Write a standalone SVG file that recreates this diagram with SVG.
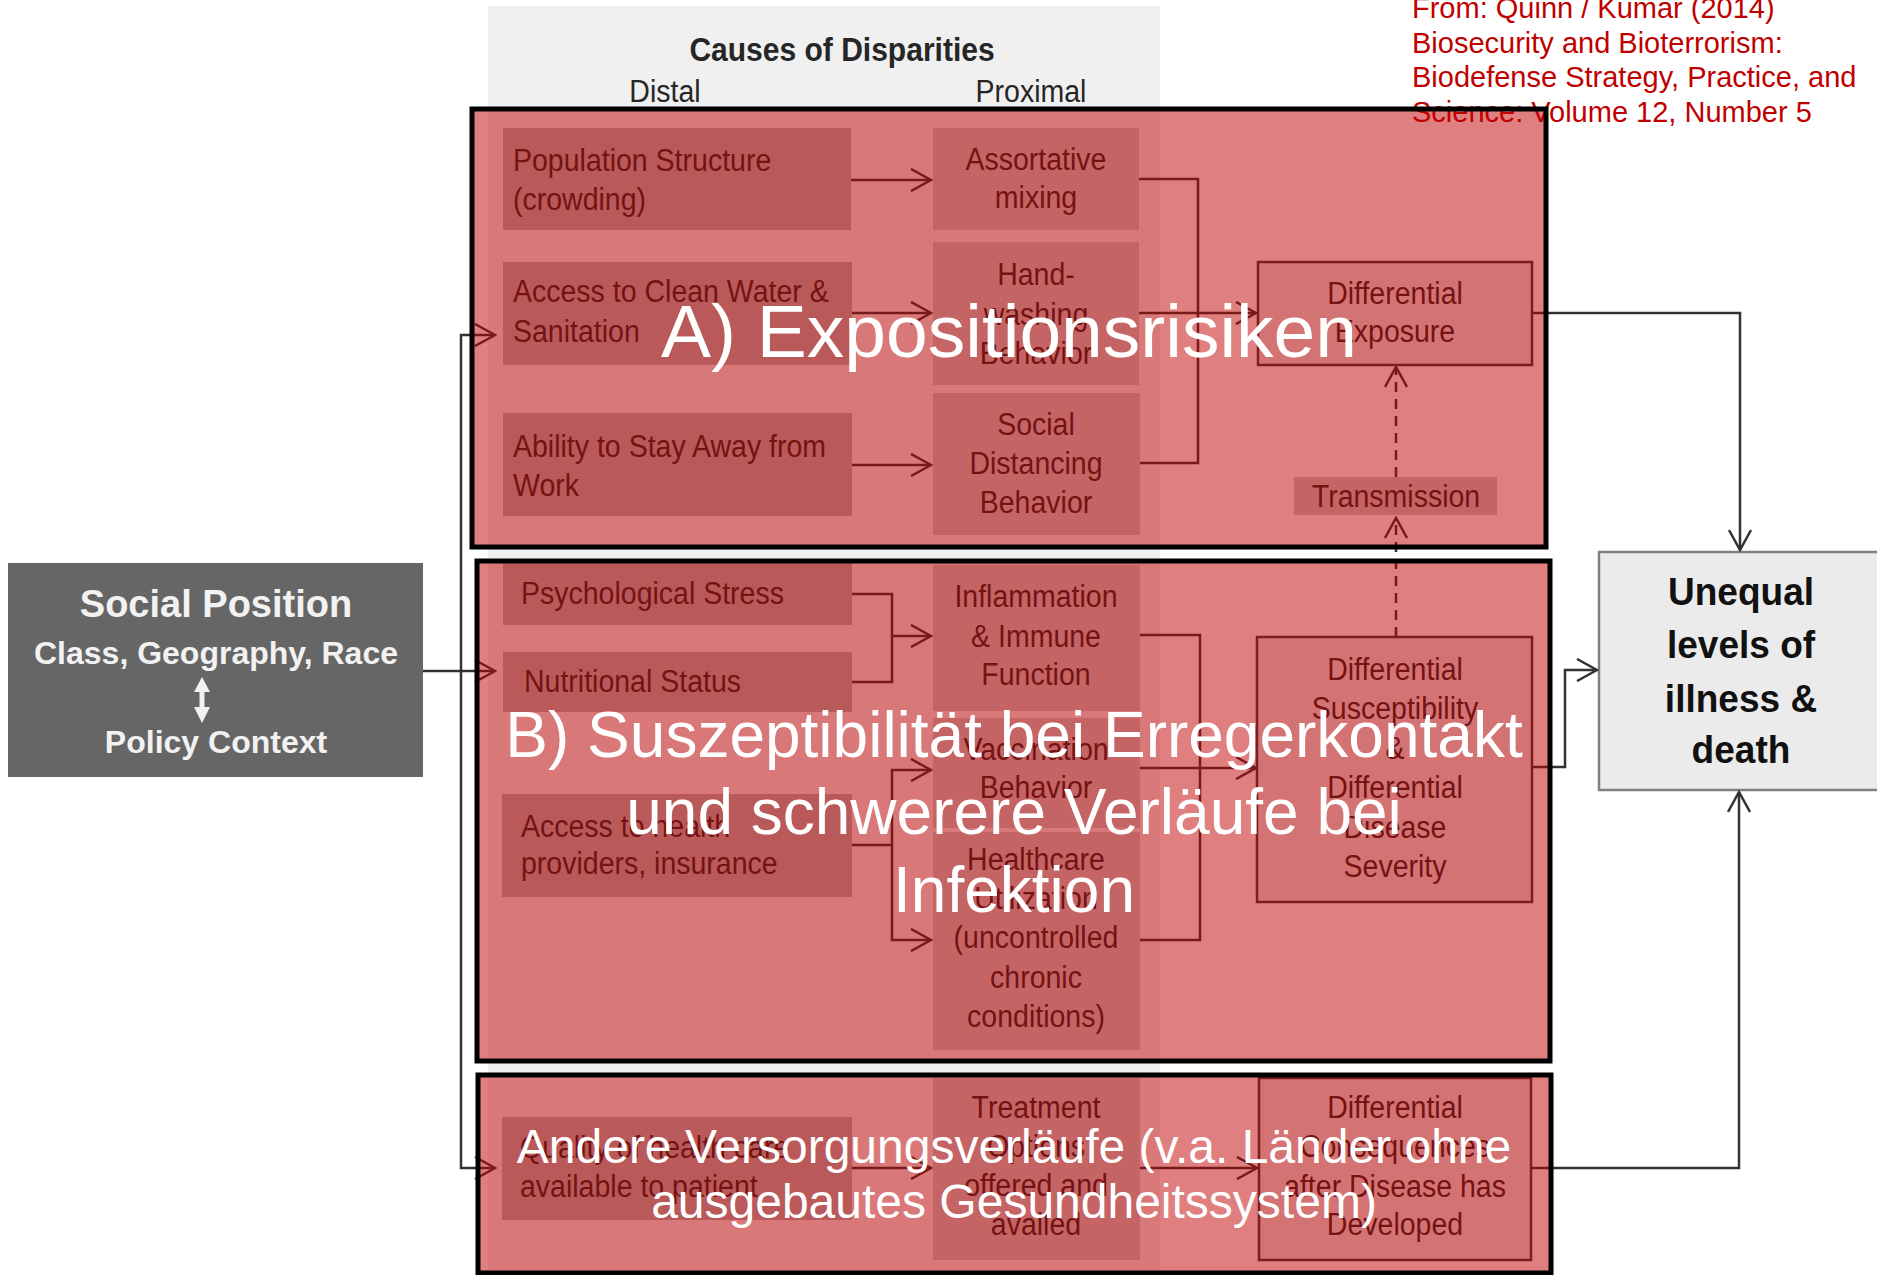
<svg xmlns="http://www.w3.org/2000/svg" width="1877" height="1275" viewBox="0 0 1877 1275">
<style>
.t{font-family:"Liberation Sans",Arial,sans-serif;font-size:31px;fill:#262626;transform-box:fill-box;transform-origin:0 50%;transform:scaleX(0.92)}
.c{text-anchor:middle;transform-origin:50% 50%}
.hd{font-size:33px;font-weight:bold;transform:scaleX(0.91)}
.uq{font-size:39px;font-weight:bold;fill:#111;transform:scaleX(0.95)}
.dist{fill:#b3b3b3}
.prox{fill:#c9c9c9}
.outc{fill:#e6e6e6;stroke:#3a3a3a;stroke-width:2.5}
.ln{fill:none;stroke:#333;stroke-width:2.5}
.ar{marker-end:url(#ah)}
.dash{stroke-dasharray:10 7}
.ov{fill:#c20000;fill-opacity:0.5;stroke:#000;stroke-width:5}
.ovt{font-family:"Liberation Sans",Arial,sans-serif;fill:#fff;text-anchor:middle}
.cite{font-family:"Liberation Sans",Arial,sans-serif;font-size:29px;fill:#c00000}
.sp{font-family:"Liberation Sans",Arial,sans-serif;fill:#f2f2f2;font-weight:bold;text-anchor:middle}
</style>
<defs>
<marker id="ah" viewBox="0 0 24 24" refX="22" refY="12" markerWidth="24" markerHeight="24" markerUnits="userSpaceOnUse" orient="auto">
<path d="M2,1 L22,12 L2,23" fill="none" stroke="#333" stroke-width="2.5"/>
</marker>
</defs>
<rect width="1877" height="1275" fill="#fff"/>
<g id="panel">
<rect x="488" y="6" width="672" height="1290" fill="#f0f0f0"/>
<text class="t c hd" x="842" y="61">Causes of Disparities</text>
<text class="t c" x="665" y="102">Distal</text>
<text class="t c" x="1031" y="102">Proximal</text>
</g>
<g id="social-position">
<rect x="8" y="563" width="415" height="214" fill="#666"/>
<text class="sp" x="216" y="617" font-size="38">Social Position</text>
<text class="sp" x="216" y="664" font-size="32">Class, Geography, Race</text>
<polygon points="202,677 210,692 194,692" fill="#f2f2f2"/>
<rect x="199.5" y="690" width="5" height="19" fill="#f2f2f2"/>
<polygon points="202,723 210,707 194,707" fill="#f2f2f2"/>
<text class="sp" x="216" y="753" font-size="32">Policy Context</text>
</g>
<g id="population-structure"><rect class="dist" x="503" y="128" width="348" height="102"/><text class="t" x="513" y="171">Population Structure</text><text class="t" x="513" y="210">(crowding)</text></g>
<g id="clean-water"><rect class="dist" x="503" y="262" width="349" height="103"/><text class="t" x="513" y="302">Access to Clean Water &amp;</text><text class="t" x="513" y="342">Sanitation</text></g>
<g id="stay-away"><rect class="dist" x="503" y="413" width="349" height="103"/><text class="t" x="513" y="457">Ability to Stay Away from</text><text class="t" x="513" y="496">Work</text></g>
<g id="psych-stress"><rect class="dist" x="503" y="563" width="349" height="62"/><text class="t" x="521" y="604">Psychological Stress</text></g>
<g id="nutritional"><rect class="dist" x="503" y="652" width="349" height="60"/><text class="t" x="524" y="692">Nutritional Status</text></g>
<g id="access-health"><rect class="dist" x="502" y="794" width="350" height="103"/><text class="t" x="521" y="837">Access to health</text><text class="t" x="521" y="874">providers, insurance</text></g>
<g id="quality-care"><rect class="dist" x="502" y="1117" width="350" height="103"/><text class="t" x="520" y="1158">Quality of health care</text><text class="t" x="520" y="1197">available to patient</text></g>
<g id="assortative"><rect class="prox" x="933" y="128" width="206" height="102"/><text class="t c" x="1036" y="170">Assortative</text><text class="t c" x="1036" y="208">mixing</text></g>
<g id="handwashing"><rect class="prox" x="933" y="242" width="206" height="143"/><text class="t c" x="1036" y="285">Hand-</text><text class="t c" x="1036" y="325">washing</text><text class="t c" x="1036" y="364">Behavior</text></g>
<g id="social-distancing"><rect class="prox" x="933" y="393" width="207" height="142"/><text class="t c" x="1036" y="435">Social</text><text class="t c" x="1036" y="474">Distancing</text><text class="t c" x="1036" y="513">Behavior</text></g>
<g id="inflammation"><rect class="prox" x="933" y="565" width="207" height="146"/><text class="t c" x="1036" y="607">Inflammation</text><text class="t c" x="1036" y="647">&amp; Immune</text><text class="t c" x="1036" y="685">Function</text></g>
<g id="vaccination"><rect class="prox" x="933" y="718" width="207" height="110"/><text class="t c" x="1036" y="760">Vaccination</text><text class="t c" x="1036" y="798">Behavior</text></g>
<g id="healthcare-utilization"><rect class="prox" x="933" y="832" width="207" height="218"/><text class="t c" x="1036" y="870">Healthcare</text><text class="t c" x="1036" y="909">Utilization</text><text class="t c" x="1036" y="948">(uncontrolled</text><text class="t c" x="1036" y="988">chronic</text><text class="t c" x="1036" y="1027">conditions)</text></g>
<g id="treatment"><rect class="prox" x="933" y="1078" width="207" height="182"/><text class="t c" x="1036" y="1118">Treatment</text><text class="t c" x="1036" y="1157">Options</text><text class="t c" x="1036" y="1196">offered and</text><text class="t c" x="1036" y="1235">availed</text></g>
<g id="diff-exposure"><rect class="outc" x="1258" y="262" width="274" height="103"/><text class="t c" x="1395" y="304">Differential</text><text class="t c" x="1395" y="342">Exposure</text></g>
<g id="transmission"><rect class="prox" x="1294" y="477" width="203" height="38"/><text class="t c" x="1396" y="507">Transmission</text></g>
<g id="diff-susceptibility"><rect class="outc" x="1257" y="637" width="275" height="265"/><text class="t c" x="1395" y="680">Differential</text><text class="t c" x="1395" y="719">Susceptibility</text><text class="t c" x="1395" y="759">&amp;</text><text class="t c" x="1395" y="798">Differential</text><text class="t c" x="1395" y="838">Disease</text><text class="t c" x="1395" y="877">Severity</text></g>
<g id="diff-consequences"><rect class="outc" x="1259" y="1078" width="272" height="182"/><text class="t c" x="1395" y="1118">Differential</text><text class="t c" x="1395" y="1157">Consequences</text><text class="t c" x="1395" y="1197">after Disease has</text><text class="t c" x="1395" y="1235">Developed</text></g>
<g id="unequal"><rect x="1599" y="552" width="300" height="238" fill="#ebebeb" stroke="#808080" stroke-width="2.5"/><text class="t c uq" x="1741" y="605">Unequal</text><text class="t c uq" x="1741" y="658">levels of</text><text class="t c uq" x="1741" y="712">illness &amp;</text><text class="t c uq" x="1741" y="763">death</text></g>
<g id="connectors">
<path class="ln ar" d="M423,671 H495"/>
<path class="ln ar" d="M461,671 V335 H495"/>
<path class="ln ar" d="M461,671 V1168 H495"/>
<path class="ln ar" d="M851,180 H931"/>
<path class="ln ar" d="M852,313 H931"/>
<path class="ln ar" d="M852,465 H931"/>
<path class="ln" d="M1139,179 H1198 V463 H1140"/>
<path class="ln ar" d="M1139,313 H1256"/>
<path class="ln" d="M852,594 H892 V682 H852"/>
<path class="ln ar" d="M892,636 H931"/>
<path class="ln" d="M852,845 H892"/>
<path class="ln ar" d="M892,845 V770 H931"/>
<path class="ln ar" d="M892,845 V940 H931"/>
<path class="ln" d="M1140,635 H1200 V940 H1140"/>
<path class="ln ar" d="M1140,768 H1256"/>
<path class="ln ar dash" d="M1396,637 V518"/>
<path class="ln ar dash" d="M1396,477 V367"/>
<path class="ln ar" d="M1532,313 H1740 V550"/>
<path class="ln ar" d="M1532,767 H1565 V670 H1597"/>
<path class="ln ar" d="M1531,1168 H1739 V792"/>
<path class="ln ar" d="M852,1168 H931"/>
<path class="ln ar" d="M1140,1168 H1257"/>
</g>
<g id="citation">
<text class="cite" x="1412" y="18">From: Quinn / Kumar (2014)</text>
<text class="cite" x="1412" y="53">Biosecurity and Bioterrorism:</text>
<text class="cite" x="1412" y="87">Biodefense Strategy, Practice, and</text>
<text class="cite" x="1412" y="122">Science: Volume 12, Number 5</text>
</g>
<g id="overlay-a">
<rect class="ov" x="472" y="109" width="1074" height="438"/>
<text class="ovt" x="1009" y="357" font-size="75">A) Expositionsrisiken</text>
</g>
<g id="overlay-b">
<rect class="ov" x="477" y="561" width="1073" height="500"/>
<text class="ovt" x="1014" y="757" font-size="64">B) Suszeptibilität bei Erregerkontakt</text>
<text class="ovt" x="1014" y="834" font-size="64">und schwerere Verläufe bei</text>
<text class="ovt" x="1014" y="912" font-size="64">Infektion</text>
</g>
<g id="overlay-c">
<rect class="ov" x="478" y="1075" width="1073" height="198"/>
<text class="ovt" x="1014" y="1163" font-size="48">Andere Versorgungsverläufe (v.a. Länder ohne</text>
<text class="ovt" x="1014" y="1218" font-size="48">ausgebautes Gesundheitssystem)</text>
</g>
</svg>
